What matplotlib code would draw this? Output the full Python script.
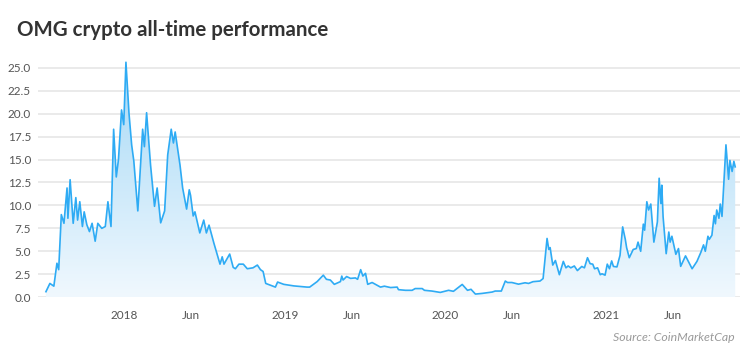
import numpy as np
import pandas as pd
import matplotlib
matplotlib.use("Agg")
import matplotlib.pyplot as plt
import matplotlib.dates as mdates
from matplotlib.colors import LinearSegmentedColormap

# OMG price (USD)
dates = [
    "2017-07-06", "2017-07-15", "2017-07-24", "2017-07-31", "2017-08-04", "2017-08-10",
    "2017-08-16", "2017-08-23", "2017-08-25", "2017-08-30", "2017-09-06", "2017-09-12",
    "2017-09-16", "2017-09-21", "2017-09-27", "2017-10-01", "2017-10-07", "2017-10-13",
    "2017-10-19", "2017-10-26", "2017-11-01", "2017-11-10", "2017-11-18", "2017-11-24",
    "2017-12-01", "2017-12-07", "2017-12-13", "2017-12-18", "2017-12-25", "2017-12-30",
    "2018-01-04", "2018-01-11", "2018-01-17", "2018-01-22", "2018-01-31", "2018-02-11",
    "2018-02-15", "2018-02-20", "2018-03-01", "2018-03-10", "2018-03-16", "2018-03-24",
    "2018-04-02", "2018-04-09", "2018-04-17", "2018-04-22", "2018-04-26", "2018-05-07",
    "2018-05-13", "2018-05-22", "2018-05-28", "2018-05-31", "2018-06-06", "2018-06-10",
    "2018-06-21", "2018-06-30", "2018-07-06", "2018-07-12", "2018-07-23", "2018-08-06",
    "2018-08-11", "2018-08-15", "2018-08-28", "2018-09-05", "2018-09-10", "2018-09-18",
    "2018-09-28", "2018-10-07", "2018-10-20", "2018-10-30", "2018-11-06", "2018-11-12",
    "2018-11-18", "2018-11-29", "2018-12-10", "2018-12-15", "2018-12-29", "2019-01-21",
    "2019-02-20", "2019-02-26", "2019-03-15", "2019-03-29", "2019-04-05", "2019-04-14",
    "2019-04-23", "2019-05-07", "2019-05-10", "2019-05-13", "2019-05-21", "2019-05-30",
    "2019-06-10", "2019-06-15", "2019-06-22", "2019-06-27", "2019-07-03", "2019-07-08",
    "2019-07-18", "2019-08-06", "2019-08-15", "2019-08-29", "2019-09-13", "2019-09-16",
    "2019-10-02", "2019-10-17", "2019-10-24", "2019-11-09", "2019-11-14", "2019-12-01",
    "2019-12-20", "2020-01-08", "2020-01-19", "2020-02-08", "2020-02-20", "2020-02-28",
    "2020-03-09", "2020-03-24", "2020-04-16", "2020-04-23", "2020-05-07", "2020-05-16",
    "2020-05-21", "2020-05-31", "2020-06-15", "2020-06-30", "2020-07-08", "2020-07-18",
    "2020-08-03", "2020-08-10", "2020-08-19", "2020-08-23", "2020-08-26", "2020-09-01",
    "2020-09-07", "2020-09-16", "2020-09-25", "2020-10-01", "2020-10-06", "2020-10-12",
    "2020-10-20", "2020-10-27", "2020-11-06", "2020-11-12", "2020-11-19", "2020-11-25",
    "2020-12-01", "2020-12-05", "2020-12-12", "2020-12-18", "2020-12-22", "2020-12-29",
    "2021-01-03", "2021-01-08", "2021-01-13", "2021-01-17", "2021-01-25", "2021-02-01",
    "2021-02-07", "2021-02-13", "2021-02-16", "2021-02-22", "2021-03-03", "2021-03-10",
    "2021-03-14", "2021-03-20", "2021-03-26", "2021-03-29", "2021-04-03", "2021-04-07",
    "2021-04-12", "2021-04-19", "2021-04-27", "2021-05-01", "2021-05-05", "2021-05-07",
    "2021-05-10", "2021-05-17", "2021-05-23", "2021-05-26", "2021-05-30", "2021-06-08",
    "2021-06-14", "2021-06-19", "2021-06-30", "2021-07-15", "2021-07-26", "2021-08-04",
    "2021-08-10", "2021-08-14", "2021-08-20", "2021-08-23", "2021-08-29", "2021-09-03",
    "2021-09-06", "2021-09-09", "2021-09-14", "2021-09-17", "2021-09-21", "2021-09-30",
    "2021-10-06", "2021-10-09", "2021-10-14", "2021-10-18", "2021-10-21",
]
prices = [
    0.6, 1.5, 1.2, 3.7, 3.0, 9.0,
    8.05, 11.9, 8.6, 12.8, 8.05, 10.85,
    8.4, 10.4, 7.7, 9.3, 7.9, 7.15,
    8.05, 6.1, 8.05, 7.5, 7.7, 10.4,
    7.7, 18.3, 13.1, 15.0, 20.4, 18.8,
    25.6, 20.0, 16.6, 14.8, 9.4, 18.3,
    16.4, 20.1, 14.4, 9.9, 11.9, 8.1,
    9.4, 15.5, 18.3, 16.8, 18.0, 14.4,
    11.9, 9.6, 11.7, 11.1, 8.85, 9.3,
    7.0, 8.4, 7.0, 7.85, 5.9, 3.6,
    4.4, 3.6, 4.7, 3.25, 3.1, 3.6,
    3.6, 3.1, 3.2, 3.5, 3.0, 2.8,
    1.5, 1.3, 1.1, 1.65, 1.4, 1.23,
    1.1, 1.1, 1.7, 2.4, 1.95, 1.87,
    1.4, 1.7, 2.3, 1.87, 2.25, 2.05,
    2.1, 1.95, 3.0, 2.3, 2.6, 1.4,
    1.6, 1.1, 1.2, 1.05, 1.1, 0.82,
    0.75, 0.75, 0.94, 0.94, 0.75, 0.67,
    0.52, 0.75, 0.64, 1.39, 0.75, 0.86,
    0.34, 0.41, 0.56, 0.67, 0.67, 1.76,
    1.6, 1.6, 1.42, 1.57, 1.5, 1.69,
    1.76, 2.03, 6.4, 5.2, 5.4, 3.5,
    4.0, 2.45, 3.9, 3.2, 3.4, 3.2,
    3.4, 2.9, 3.35, 3.2, 4.3, 3.65,
    3.6, 3.1, 3.2, 2.45, 2.55, 2.4,
    3.6, 3.1, 3.95, 3.35, 3.3, 4.56,
    7.66, 6.3, 5.4, 4.3, 5.2, 5.3,
    6.0, 5.0, 7.96, 7.3, 10.4, 9.5,
    10.15, 6.0, 8.2, 12.96, 10.2, 12.2,
    8.76, 4.74, 7.1, 6.0, 6.64, 4.67,
    5.3, 3.36, 4.5, 3.1, 3.9, 4.9,
    5.7, 5.0, 6.64, 6.3, 6.75, 8.9,
    8.0, 9.5, 8.6, 10.15, 8.8, 16.6,
    12.85, 14.9, 13.7, 14.8, 14.2,
]

yticks = [0, 2.5, 5, 7.5, 10, 12.5, 15, 17.5, 20, 22.5, 25]
xtick_dates = ["2018-01-01", "2018-06-01", "2019-01-01", "2019-06-01",
               "2020-01-01", "2020-06-01", "2021-01-01", "2021-06-01"]
xtick_labels = ["2018", "Jun", "2019", "Jun", "2020", "Jun", "2021", "Jun"]

plt.rcParams["font.family"] = ["Lato", "DejaVu Sans"]

x = mdates.date2num(pd.to_datetime(dates))
y = np.array(prices)

fig = plt.figure(figsize=(7.5, 3.52), dpi=100)
ax = fig.add_axes([0.0507, 0.1557, 0.9360, 0.6910])

xmin = mdates.date2num(pd.Timestamp("2017-06-18"))
xmax = mdates.date2num(pd.Timestamp("2021-11-01"))
ymax = 26.5
ax.set_xlim(xmin, xmax)
ax.set_ylim(0, ymax)

# gradient fill under the line
line_color = "#2eabf4"
cmap = LinearSegmentedColormap.from_list("fade", ["#f0f8fe", "#a6d9f6"])
grad = np.linspace(0, 1, 256).reshape(-1, 1)
img = ax.imshow(grad, cmap=cmap, aspect="auto", origin="lower",
                extent=[xmin, xmax, 0, 25.6], zorder=1)
poly = ax.fill_between(x, y, 0, color="none", lw=0)
clip = poly.get_paths()[0]
img.set_clip_path(clip, transform=ax.transData)

ax.plot(x, y, color=line_color, lw=1.2, zorder=3)

ax.set_yticks(yticks)
ax.set_yticklabels([f"{v:.1f}" for v in yticks])
ax.set_xticks(mdates.date2num(pd.to_datetime(xtick_dates)))
ax.set_xticklabels(xtick_labels)

ax.grid(axis="y", color="#e6e6e6", lw=1.2, zorder=0)
ax.set_axisbelow(True)
for s in ax.spines.values():
    s.set_visible(False)
ax.tick_params(length=0, labelsize=8.5, labelcolor="#555555")
ax.tick_params(axis="y", pad=5)
ax.tick_params(axis="x", pad=9)

fig.text(0.023, 0.915, "OMG crypto all-time performance", fontsize=14.8,
         fontweight="bold", color="#333333", va="center", ha="left")
fig.text(0.98, 0.042, "Source: CoinMarketCap", fontsize=8.8, style="italic",
         color="#9a9a9a", va="center", ha="right")

fig.savefig("out.png", dpi=100)
